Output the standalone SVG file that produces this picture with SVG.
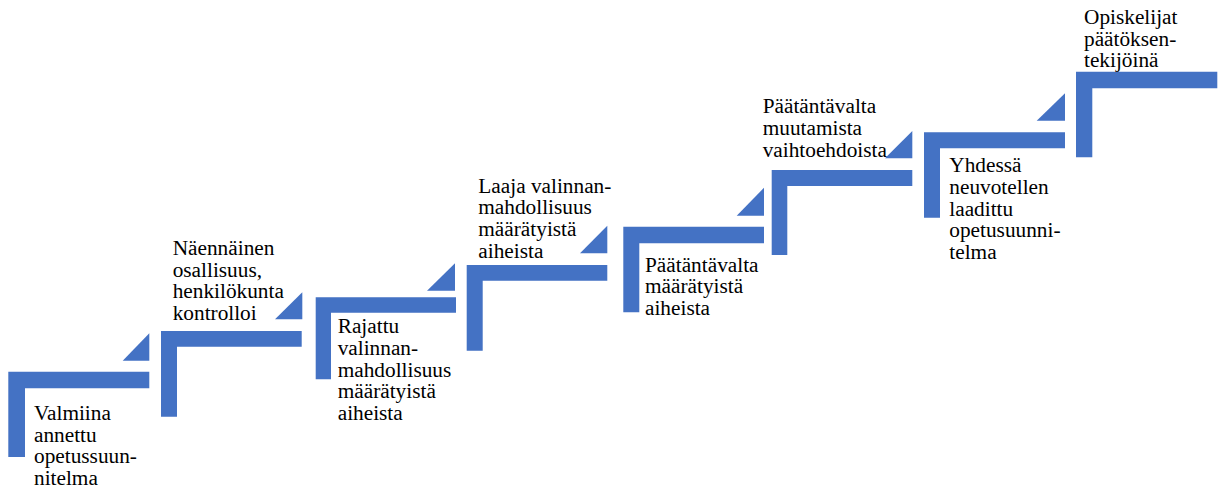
<svg xmlns="http://www.w3.org/2000/svg" width="1223" height="489" viewBox="0 0 1223 489">
<style>
.step{fill:#4472C4;}
.tri{fill:#4472C4;}
text{font-family:'Liberation Serif','Tinos','Times New Roman','DejaVu Serif',serif;font-size:21.3px;fill:#000;}
</style>
<rect width="1223" height="489" fill="#fff"/>
<g id="connectors">
<polygon class="tri" points="122.7,360.7 149.3,333.3 149.3,360.7"/>
<polygon class="tri" points="275,319.3 302.3,292.3 302.3,319.3"/>
<polygon class="tri" points="427,290.7 455,263.3 455,290.7"/>
<polygon class="tri" points="580,253.3 607.3,225.7 607.3,253.3"/>
<polygon class="tri" points="736.7,215.7 764,187.7 764,215.7"/>
<polygon class="tri" points="885,158.3 912.3,131 912.3,158.3"/>
<polygon class="tri" points="1036.7,120.7 1065,93.3 1065,120.7"/>
</g>
<g id="step1">
<path class="step" d="M8.3,371.7H149.3V388.3H25V457H8.3Z"/>
<text font-family="Liberation Serif, serif" x="34" y="420">Valmiina<tspan x="34" y="441.7">annettu</tspan><tspan x="34" y="463.3">opetussuun-</tspan><tspan x="34" y="485">nitelma</tspan></text>
</g>
<g id="step2">
<path class="step" d="M161,331H301.7V346.7H177V416.7H161Z"/>
<text x="172.7" y="255">Näennäinen<tspan x="172.7" y="276.7">osallisuus,</tspan><tspan x="172.7" y="298.3">henkilökunta</tspan><tspan x="172.7" y="320">kontrolloi</tspan></text>
</g>
<g id="step3">
<path class="step" d="M315.7,297.2H456V312.7H331V379.3H315.7Z"/>
<text x="337.7" y="333.3">Rajattu<tspan x="337.7" y="355">valinnan-</tspan><tspan x="337.7" y="376.7">mahdollisuus</tspan><tspan x="337.7" y="398.3">määrätyistä</tspan><tspan x="337.7" y="420">aiheista</tspan></text>
</g>
<g id="step4">
<path class="step" d="M466.7,265H607.3V280.7H482.7V350.7H466.7Z"/>
<text x="478.3" y="192.5">Laaja valinnan-<tspan x="478.3" y="214.2">mahdollisuus</tspan><tspan x="478.3" y="235.9">määrätyistä</tspan><tspan x="478.3" y="257.6">aiheista</tspan></text>
</g>
<g id="step5">
<path class="step" d="M623.3,226.7H764V243.3H639.3V312.3H623.3Z"/>
<text x="645" y="271.7">Päätäntävalta<tspan x="645" y="293.4">määrätyistä</tspan><tspan x="645" y="315.1">aiheista</tspan></text>
</g>
<g id="step6">
<path class="step" d="M771.7,170H912.3V186H787.3V255H771.7Z"/>
<text x="762.7" y="113.3">Päätäntävalta<tspan x="762.7" y="135">muutamista</tspan><tspan x="762.7" y="156.7">vaihtoehdoista</tspan></text>
</g>
<g id="step7">
<path class="step" d="M924,132.3H1065V148.3H940V217.7H924Z"/>
<text x="949.3" y="172.3">Yhdessä<tspan x="949.3" y="194">neuvotellen</tspan><tspan x="949.3" y="215.7">laadittu</tspan><tspan x="949.3" y="237.4">opetusuunni-</tspan><tspan x="949.3" y="259.1">telma</tspan></text>
</g>
<g id="step8">
<path class="step" d="M1076,71.7H1217.3V88.3H1092.3V157.3H1076Z"/>
<text x="1084" y="24">Opiskelijat<tspan x="1084" y="45.7">päätöksen-</tspan><tspan x="1084" y="67.4">tekijöinä</tspan></text>
</g>
</svg>
